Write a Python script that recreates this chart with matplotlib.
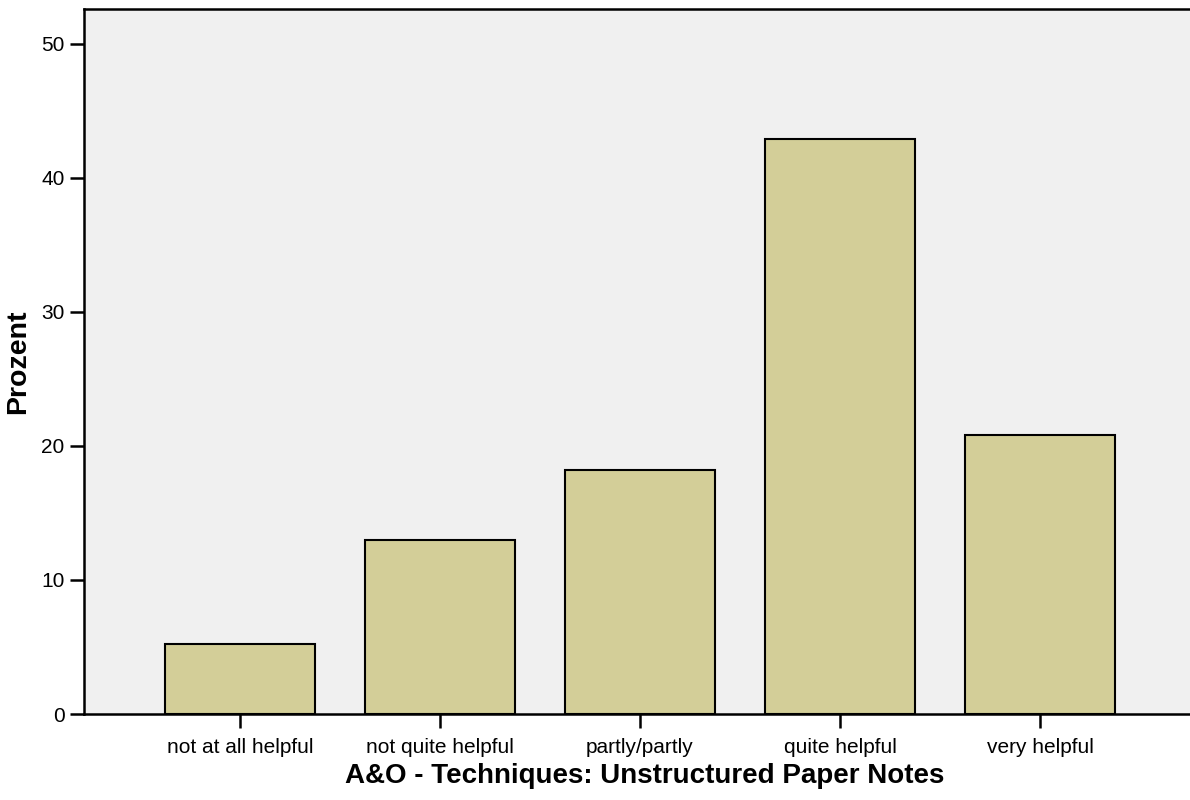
import matplotlib.pyplot as plt

categories = ['not at all helpful', 'not quite helpful', 'partly/partly', 'quite helpful', 'very helpful']
percent = [5.2, 13.0, 18.2, 42.9, 20.8]
y_ticks = [0, 10, 20, 30, 40, 50]

plt.rcParams['font.family'] = ['Liberation Sans', 'DejaVu Sans']

fig = plt.figure(figsize=(11.9, 8), dpi=100)
ax = fig.add_axes([84 / 1190, 86 / 800, 1 - 84 / 1190, (714 - 9) / 800])
ax.set_facecolor('#f0f0f0')

x = range(len(categories))
ax.bar(x, percent, width=0.75, color='#d3ce98', edgecolor='black', linewidth=1.5, zorder=2)

ax.set_xlim(-0.78, 4.75)
ax.set_ylim(0, 52.6)
ax.set_xticks(list(x))
ax.set_xticklabels(categories, fontsize=15)
ax.set_yticks(y_ticks)
ax.set_yticklabels([str(t) for t in y_ticks], fontsize=15)
ax.tick_params(axis='both', direction='out', length=10, width=1.8)
ax.tick_params(axis='x', pad=7)
ax.tick_params(axis='y', pad=4)

for side in ['left', 'bottom', 'top']:
    ax.spines[side].set_linewidth(1.8)
ax.spines['right'].set_visible(False)

ax.set_xlabel('A&O - Techniques: Unstructured Paper Notes', fontsize=20, fontweight='bold')
ax.set_ylabel('Prozent', fontsize=20.5, fontweight='bold')
ax.xaxis.set_label_coords(0.507, -0.069)
ax.yaxis.set_label_coords(-0.048, 0.5)

fig.savefig('out.png', dpi=100)
